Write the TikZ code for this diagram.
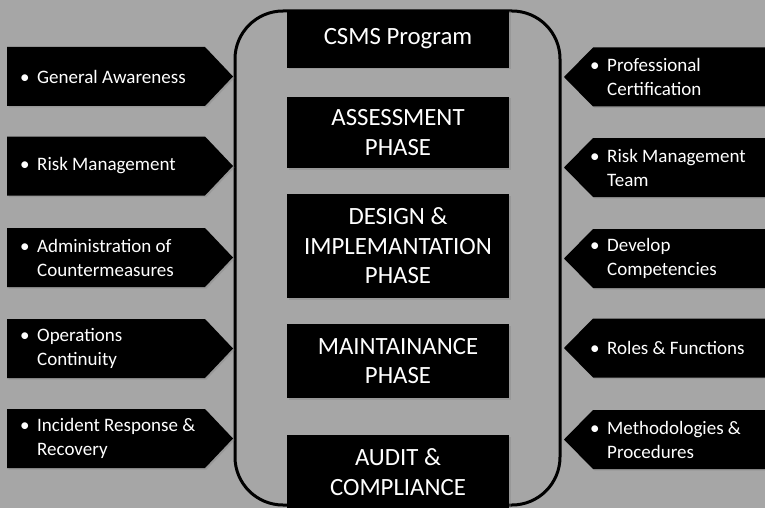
\documentclass[tikz,border=0pt]{standalone}
\usepackage{fontspec}
\setmainfont{Carlito}
\usetikzlibrary{shadows}
\definecolor{bggray}{RGB}{166,166,166}
\newcommand{\itm}{\makebox[17pt][l]{\textbullet}}
\newcommand{\nxt}{\\\hspace*{17pt}}
\def\leftsign(#1){\fill[sign] (7,#1-29.5) -- (205,#1-29.5) -- (233,#1) -- (205,#1+29.5) -- (7,#1+29.5) -- cycle;}
\def\rightsign(#1){\fill[sign] (768,#1-29.5) -- (593,#1-29.5) -- (564,#1) -- (593,#1+29.5) -- (768,#1+29.5) -- cycle;}
\tikzset{
	sign/.style={black, drop shadow={shadow xshift=1.5pt, shadow yshift=-1.5pt, opacity=0.35}},
	item/.style={anchor=west, align=left, text=white, inner sep=0pt, font=\fontsize{19pt}{24pt}\selectfont},
	phase/.style={fill=black, text=white, minimum width=222pt, minimum height=#1, inner sep=0pt, align=center,
		font=\fontsize{24.8pt}{29.5pt}\selectfont, drop shadow={shadow xshift=1.5pt, shadow yshift=-1.5pt, opacity=0.35}}
}

\begin{document}
\begin{tikzpicture}[x=1pt, y=-1pt]
			%%%%% START %%%%%
			
			\fill[bggray] (0,0) rectangle (765,508);
			\useasboundingbox (0,0) rectangle (765,508);
			
			\draw[line width=3pt, rounded corners=48pt] (235,11) rectangle (560,505);
			
			\node[phase=58pt] (csms) at (398,39) {CSMS Program};
			\node[phase=71pt] (assess) at (398,132.5) {ASSESSMENT\\PHASE};
			\node[phase=104pt] (design) at (398,246) {DESIGN \&\\IMPLEMANTATION\\PHASE};
			\node[phase=74pt] (maint) at (398,361) {MAINTAINANCE\\PHASE};
			\node[phase=74pt] (audit) at (398,472) {AUDIT \&\\COMPLIANCE};
			
			\leftsign(76.5)
			\leftsign(166)
			\leftsign(257.5)
			\leftsign(348.5)
			\leftsign(438.5)
			
			\node[item] (aware) at (20,76.5) {\itm General Awareness};
			\node[item] (riskm) at (20,166) {\itm Risk Management};
			\node[item] (admin) at (20,257.5) {\itm Administration of\nxt Countermeasures};
			\node[item] (oper) at (20,348.5) {\itm Operations\nxt Continuity};
			\node[item] (incid) at (20,438.5) {\itm Incident Response \&\nxt Recovery};
			
			\rightsign(77)
			\rightsign(167.5)
			\rightsign(258.5)
			\rightsign(348)
			\rightsign(439.5)
			
			\node[item] (cert) at (590,77) {\itm Professional\nxt Certification};
			\node[item] (team) at (590,167.5) {\itm Risk Management\nxt Team};
			\node[item] (compet) at (590,258.5) {\itm Develop\nxt Competencies};
			\node[item] (roles) at (590,348) {\itm Roles \& Functions};
			\node[item] (method) at (590,439.5) {\itm Methodologies \&\nxt Procedures};
			
			%%%%% END %%%%%
\end{tikzpicture}
\end{document}
